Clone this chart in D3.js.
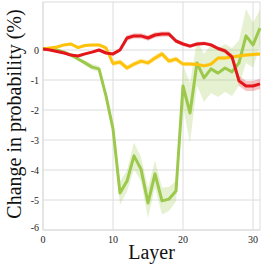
<!DOCTYPE html>
<html>
<head>
<meta charset="utf-8">
<script src="https://cdn.jsdelivr.net/npm/d3@7"></script>
<style>
  body { margin: 0; background: #fff; }
  text { font-family: "Liberation Serif", "DejaVu Serif", serif; }
</style>
</head>
<body>
<div id="chart"></div>
<script>
// layers 0..31
var layers = d3.range(0, 32);

var greenMean = [0.03, 0.03, 0, -0.07, -0.17, -0.3, -0.43, -0.57, -0.63, -1.53,
  -2.63, -4.77, -4.37, -3.53, -3.97, -5.1, -4.13, -5.03, -4.97, -4.7,
  -1.2, -2.1, -0.43, -0.93, -0.63, -0.77, -0.6, -0.73, -0.43, 0.47, 0.17, 0.73];
var greenErr = [0.03, 0.03, 0.03, 0.05, 0.05, 0.06, 0.08, 0.1, 0.1, 0.1,
  0.15, 0.4, 0.35, 0.45, 0.4, 0.5, 0.45, 0.45, 0.4, 0.35,
  0.7, 1.0, 0.75, 0.8, 0.8, 0.8, 0.8, 0.8, 0.75, 0.9, 0.75, 0.6];

var yellowMean = [0.03, 0.07, 0.1, 0.17, 0.2, 0.08, 0.15, 0.17, 0.17, 0.07,
  -0.45, -0.4, -0.6, -0.47, -0.37, -0.43, -0.27, -0.13, -0.37, -0.3,
  -0.47, -0.47, -0.48, -0.53, -0.47, -0.27, -0.27, -0.23, -0.2, -0.17, -0.15, -0.13];
var yellowErr = [0.03, 0.03, 0.04, 0.05, 0.05, 0.05, 0.05, 0.05, 0.05, 0.06,
  0.09, 0.09, 0.09, 0.09, 0.09, 0.09, 0.1, 0.1, 0.09, 0.09,
  0.07, 0.07, 0.06, 0.06, 0.06, 0.06, 0.06, 0.06, 0.06, 0.06, 0.06, 0.06];

var redMean = [0.03, 0, -0.05, -0.1, -0.17, -0.2, -0.13, -0.07, 0, -0.1,
  -0.13, 0, 0.4, 0.47, 0.47, 0.4, 0.5, 0.53, 0.53, 0.3,
  0.2, 0.13, 0.2, 0.22, 0.17, 0.05, -0.03, -0.23, -1.03, -1.2, -1.2, -1.13];
var redErr = [0.03, 0.03, 0.03, 0.04, 0.04, 0.04, 0.04, 0.04, 0.05, 0.05,
  0.06, 0.07, 0.09, 0.09, 0.09, 0.09, 0.09, 0.09, 0.09, 0.07,
  0.06, 0.06, 0.06, 0.06, 0.06, 0.07, 0.08, 0.1, 0.17, 0.17, 0.17, 0.17];

var xTicks = [0, 10, 20, 30];
var yTicks = [0, -1, -2, -3, -4, -5, -6];

var series = [
  { name: "green", mean: greenMean, err: greenErr, color: "#9cc94c" },
  { name: "yellow", mean: yellowMean, err: yellowErr, color: "#ffc20a" },
  { name: "red", mean: redMean, err: redErr, color: "#e3161b" }
];

var width = 266, height = 266;
var margin = { top: 2, right: 6, bottom: 36, left: 43 };

var svg = d3.select("#chart").append("svg")
  .attr("width", width)
  .attr("height", height);

var x = d3.scaleLinear().domain([0, 31]).range([margin.left, width - margin.right]);
var y = d3.scaleLinear().domain([-6, 1.6]).range([height - margin.bottom, margin.top]);

// grid
svg.append("g").selectAll("line").data(xTicks).enter().append("line")
  .attr("x1", function (d) { return x(d); })
  .attr("x2", function (d) { return x(d); })
  .attr("y1", y(1.6)).attr("y2", y(-6))
  .attr("stroke", "#dcdcdc").attr("stroke-width", 1);
svg.append("g").selectAll("line").data(yTicks).enter().append("line")
  .attr("x1", x(0)).attr("x2", x(31))
  .attr("y1", function (d) { return y(d); })
  .attr("y2", function (d) { return y(d); })
  .attr("stroke", "#dcdcdc").attr("stroke-width", 1);

// frame
svg.append("rect")
  .attr("x", x(0)).attr("y", y(1.6))
  .attr("width", x(31) - x(0)).attr("height", y(-6) - y(1.6))
  .attr("fill", "none").attr("stroke", "#dcdcdc").attr("stroke-width", 1);

var area = d3.area()
  .x(function (d, i) { return x(layers[i]); })
  .y0(function (d) { return y(d[0] - d[1]); })
  .y1(function (d) { return y(d[0] + d[1]); });

var line = d3.line()
  .x(function (d, i) { return x(layers[i]); })
  .y(function (d) { return y(d); });

series.forEach(function (s) {
  var pairs = s.mean.map(function (m, i) { return [m, s.err[i]]; });
  svg.append("path")
    .datum(pairs)
    .attr("fill", s.color)
    .attr("fill-opacity", 0.25)
    .attr("d", area);
});
series.forEach(function (s) {
  svg.append("path")
    .datum(s.mean)
    .attr("fill", "none")
    .attr("stroke", s.color)
    .attr("stroke-width", 3)
    .attr("stroke-linejoin", "round")
    .attr("d", line);
});

// tick labels (the -6 sits a bit higher so it clears the x "0")
svg.append("g").selectAll("text").data(yTicks).enter().append("text")
  .attr("x", x(0) - 4)
  .attr("y", function (d) { return d === -6 ? y(d) - 3 : y(d); })
  .attr("dy", "0.35em")
  .attr("text-anchor", "end")
  .attr("font-size", 10)
  .attr("fill", "#222")
  .text(function (d) { return d; });

svg.append("g").selectAll("text").data(xTicks).enter().append("text")
  .attr("x", function (d) { return x(d); })
  .attr("y", y(-6) + 13)
  .attr("text-anchor", "middle")
  .attr("font-size", 10)
  .attr("fill", "#222")
  .text(function (d) { return d; });

svg.append("text")
  .attr("x", (x(0) + x(31)) / 2)
  .attr("y", 259)
  .attr("text-anchor", "middle")
  .attr("font-size", 20)
  .attr("fill", "#111")
  .text("Layer");

svg.append("text")
  .attr("transform", "translate(21,114) rotate(-90)")
  .attr("text-anchor", "middle")
  .attr("font-size", 20)
  .attr("fill", "#111")
  .text("Change in probability (%)");
</script>
</body>
</html>
